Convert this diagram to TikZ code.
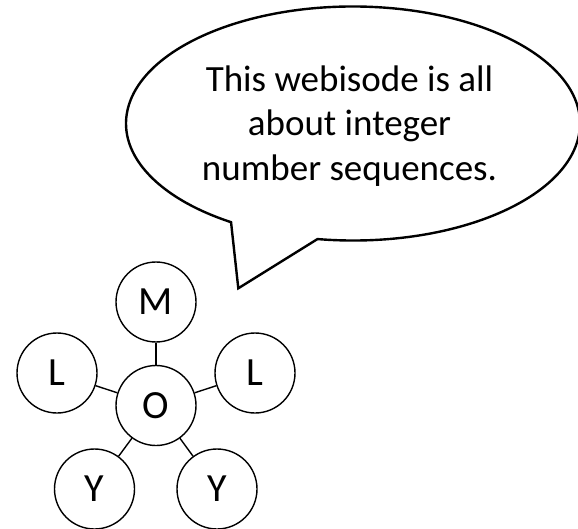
\documentclass[tikz,border=0pt]{standalone}
\usepackage{fontspec}
\setmainfont{Carlito}
\begin{document}
\begin{tikzpicture}[x=1pt,y=1pt,
  letter/.style={circle,draw,line width=1.4pt,minimum size=80pt,inner sep=0pt,
    font=\fontsize{40}{48}\selectfont},
  link/.style={line width=1.4pt},
  bubble/.style={line width=2.4pt,line join=miter}]
\useasboundingbox (0,0) rectangle (578,-529);
% speech bubble
\coordinate (bc) at (353,-123.5);
\path (bc) ++(-99:227 and 117) coordinate (rv);
\coordinate (tip) at (238.3,-288.3);
\draw[bubble] (rv) arc[start angle=-99,end angle=237.5,x radius=227pt,y radius=117pt] -- (tip) -- cycle;
\node[inner sep=0pt,align=center,font=\fontsize{37}{44.3}\selectfont] (txt) at (349.5,-126)
  {This webisode is all\\about integer\\number sequences.};
% letter circles
\node[letter] (O) at (156,-405.5) {O};
\node[letter] (M) at (156,-302) {M};
\node[letter] (L1) at (57,-373) {L};
\node[letter] (L2) at (255,-373) {L};
\node[letter] (Y1) at (94.5,-489) {Y};
\node[letter] (Y2) at (217,-489) {Y};
\draw[link] (O) -- (M);
\draw[link] (O) -- (L1);
\draw[link] (O) -- (L2);
\draw[link] (O) -- (Y1);
\draw[link] (O) -- (Y2);
\end{tikzpicture}
\end{document}
